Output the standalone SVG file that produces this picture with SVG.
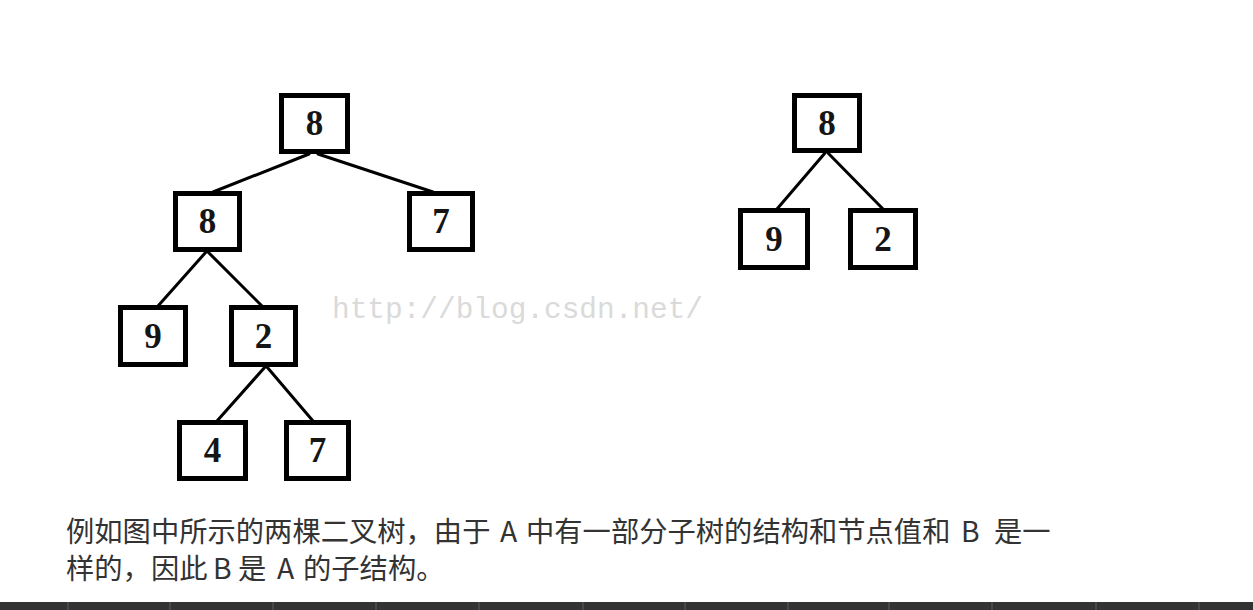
<svg xmlns="http://www.w3.org/2000/svg" width="1253" height="610" viewBox="0 0 1253 610">
<style>
.box{fill:#fff;stroke:#000;stroke-width:5}
.num{font-family:"Liberation Serif","Times New Roman",serif;font-size:35px;font-weight:bold;fill:#151515;text-anchor:middle}
.edge{stroke:#000;stroke-width:3;fill:none;stroke-linecap:round}
.wm{font-family:"Liberation Mono",monospace;font-size:29.5px;fill:#dadada}
.cap{font-family:"Noto Sans CJK SC",sans-serif;font-size:28.3px;fill:#333}
.sep{stroke:#484848;stroke-width:2}
</style>
<rect width="1253" height="610" fill="#fff"/>
<g id="connectors">
<line class="edge" x1="309" y1="154" x2="213" y2="192"/>
<line class="edge" x1="318" y1="154" x2="433" y2="192"/>
<line class="edge" x1="206" y1="252" x2="158" y2="306"/>
<line class="edge" x1="208" y1="252" x2="262" y2="306"/>
<line class="edge" x1="265" y1="367" x2="217" y2="421"/>
<line class="edge" x1="267" y1="367" x2="313" y2="421"/>
<line class="edge" x1="825" y1="153" x2="777" y2="209"/>
<line class="edge" x1="828" y1="153" x2="883" y2="209"/>
</g>
<g id="a-root"><rect class="box" x="281.5" y="95.5" width="66" height="56"/><text class="num" x="314.5" y="135">8</text></g>
<g id="a-l8"><rect class="box" x="175.5" y="193.5" width="64" height="56"/><text class="num" x="207.5" y="233">8</text></g>
<g id="a-r7"><rect class="box" x="409.5" y="193.5" width="63" height="56"/><text class="num" x="441" y="233">7</text></g>
<g id="a-9"><rect class="box" x="120.5" y="307.5" width="65" height="57"/><text class="num" x="153" y="347.5">9</text></g>
<g id="a-2"><rect class="box" x="231.5" y="307.5" width="64" height="57"/><text class="num" x="263.5" y="347.5">2</text></g>
<g id="a-4"><rect class="box" x="179.5" y="422.5" width="66" height="56"/><text class="num" x="212.5" y="462">4</text></g>
<g id="a-7"><rect class="box" x="286.5" y="422.5" width="62" height="56"/><text class="num" x="317.5" y="462">7</text></g>
<g id="b-root"><rect class="box" x="794.5" y="95.5" width="65" height="55"/><text class="num" x="827" y="134.5">8</text></g>
<g id="b-9"><rect class="box" x="740.5" y="210.5" width="67" height="57"/><text class="num" x="774" y="250.5">9</text></g>
<g id="b-2"><rect class="box" x="850.5" y="210.5" width="65" height="57"/><text class="num" x="883" y="250.5">2</text></g>
<text class="wm" x="332" y="318" textLength="371" lengthAdjust="spacingAndGlyphs">http://blog.csdn.net/</text>
<g id="caption">
<text class="cap" y="542"><tspan x="66">例如图中所示的两棵二叉树，由于</tspan><tspan x="500">A</tspan><tspan x="526">中有一部分子树的结构和节点值和</tspan><tspan x="961">B</tspan><tspan x="994">是一</tspan></text>
<text class="cap" y="579"><tspan x="66">样的，因此</tspan><tspan x="213">B</tspan><tspan x="238">是</tspan><tspan x="277">A</tspan><tspan x="303">的子结构。</tspan></text>
</g>
<g id="bar">
<rect x="0" y="602" width="1253" height="8" fill="#333"/>
<line class="sep" x1="68" y1="602" x2="68" y2="610"/>
<line class="sep" x1="170" y1="602" x2="170" y2="610"/>
<line class="sep" x1="273" y1="602" x2="273" y2="610"/>
<line class="sep" x1="376" y1="602" x2="376" y2="610"/>
<line class="sep" x1="479" y1="602" x2="479" y2="610"/>
<line class="sep" x1="583" y1="602" x2="583" y2="610"/>
<line class="sep" x1="685" y1="602" x2="685" y2="610"/>
<line class="sep" x1="788" y1="602" x2="788" y2="610"/>
<line class="sep" x1="889" y1="602" x2="889" y2="610"/>
<line class="sep" x1="992" y1="602" x2="992" y2="610"/>
<line class="sep" x1="1096" y1="602" x2="1096" y2="610"/>
<line class="sep" x1="1199" y1="602" x2="1199" y2="610"/>
</g>
</svg>
